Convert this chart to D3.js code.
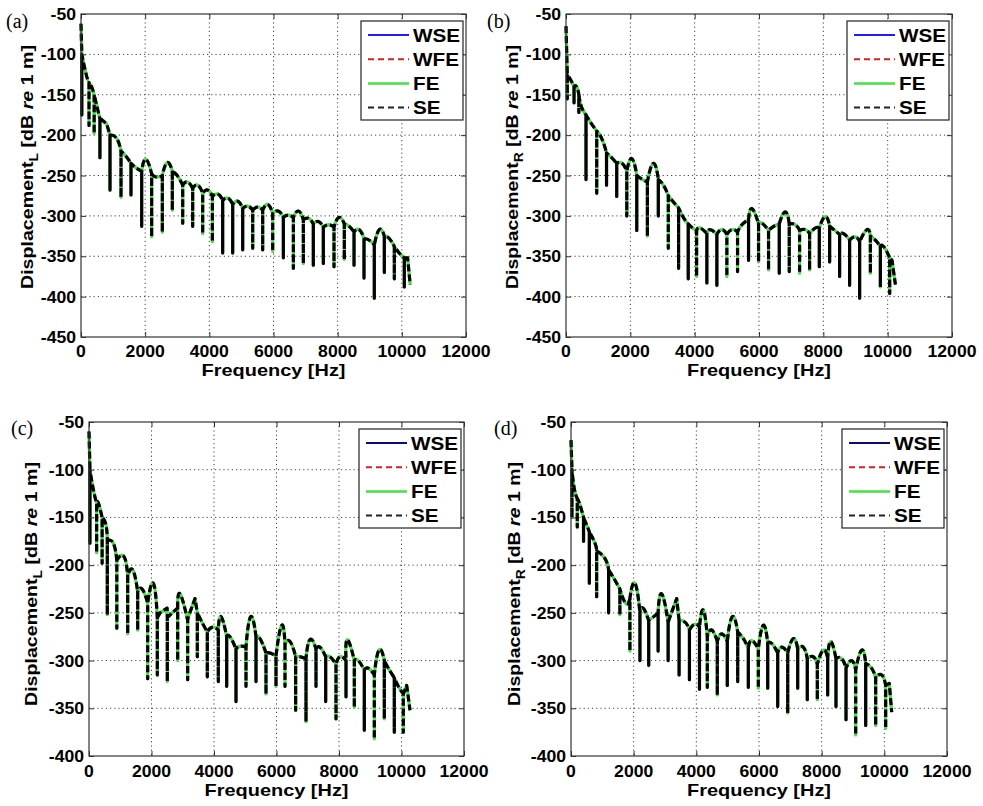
<!DOCTYPE html>
<html><head><meta charset="utf-8">
<script src="https://cdn.jsdelivr.net/npm/d3@7"></script>
<style>
html,body{margin:0;padding:0;background:#fff;}
svg{display:block;}
text{font-family:"Liberation Sans",Arial,sans-serif;font-weight:bold;fill:#000;}
</style></head>
<body>
<svg id="chart" width="983" height="806"></svg>
<script>
// ---------- DATA ----------
const seriesNames = ["WSE","WFE","FE","SE"];
const xTicks = [0,2000,4000,6000,8000,10000,12000];
const yTicksTop = [-450,-400,-350,-300,-250,-200,-150,-100,-50];
const yTicksBottom = [-400,-350,-300,-250,-200,-150,-100,-50];

// arch tops [Hz, dB]
const aPeaks = [[0,-62],[170,-126],[330,-140],[470,-160],[620,-180],[800,-186],[1110,-204],[1400,-226],[1700,-240],[2020,-230],[2350,-252],[2690,-234],[3000,-250],[3320,-258],[3640,-262],[3950,-268],[4270,-273],[4580,-278],[4890,-282],[5200,-288],[5510,-289],[5820,-286],[6150,-294],[6460,-299],[6780,-294],[7090,-303],[7400,-307],[7720,-311],[8040,-302],[8360,-313],[8670,-317],[8980,-330],[9300,-317],[9610,-328],[9920,-346],[10180,-352],[10260,-385]];
// dips [Hz, arch level at the dip, bottom dB]
const aDips = [[25,-100,-175],[250,-135,-188],[410,-150,-198],[590,-180,-228],[904,-200,-268],[1247,-220,-277],[1558,-235,-274],[1891,-245,-313],[2203,-248,-326],[2535,-250,-320],[2846,-245,-293],[3170,-262,-309],[3481,-266,-313],[3793,-272,-322],[4094,-276,-332],[4416,-281,-346],[4728,-286,-346],[5040,-291,-342],[5352,-293,-340],[5663,-293,-342],[5975,-297,-344],[6307,-302,-352],[6619,-302,-365],[6930,-305,-359],[7241,-310,-361],[7553,-314,-359],[7886,-314,-363],[8207,-310,-354],[8510,-320,-361],[8821,-328,-377],[9142,-336,-402],[9454,-325,-370],[9766,-338,-378],[10077,-352,-388]];

const bPeaks = [[0,-65],[150,-132],[330,-140],[480,-165],[778,-185],[1110,-204],[1420,-228],[1750,-235],[2044,-229],[2380,-255],[2717,-235],[3030,-262],[3340,-283],[3650,-302],[3960,-316],[4171,-315],[4482,-317],[4846,-317],[5157,-317],[5468,-311],[5779,-291],[6091,-309],[6452,-313],[6816,-295],[7127,-311],[7438,-317],[7750,-315],[8061,-301],[8268,-315],[8630,-322],[8994,-326],[9358,-317],[9617,-330],[9876,-338],[10135,-355],[10240,-385]];
const bDips = [[40,-125,-155],[250,-140,-160],[400,-150,-172],[622,-175,-255],[955,-195,-272],[1260,-222,-262],[1577,-235,-276],[1890,-245,-300],[2200,-250,-318],[2530,-258,-325],[2870,-255,-300],[3180,-275,-340],[3500,-290,-365],[3800,-310,-378],[4060,-318,-375],[4379,-322,-383],[4690,-323,-386],[5001,-323,-375],[5333,-320,-369],[5675,-305,-355],[5986,-310,-357],[6297,-318,-367],[6630,-310,-371],[6941,-310,-369],[7262,-318,-371],[7573,-322,-367],[7875,-315,-363],[8196,-313,-357],[8506,-323,-375],[8817,-330,-386],[9129,-332,-402],[9462,-325,-371],[9773,-338,-388],[10063,-352,-396]];

const cPeaks = [[0,-60],[140,-121],[300,-135],[544,-158],[778,-177],[1120,-191],[1400,-205],[1700,-225],[2058,-219],[2272,-250],[2500,-245],[2698,-249],[2912,-230],[3170,-255],[3392,-235],[3650,-262],[3950,-265],[4224,-254],[4512,-275],[4832,-285],[5174,-254],[5472,-277],[5792,-292],[6166,-263],[6432,-280],[6752,-296],[7072,-278],[7392,-286],[7712,-296],[8032,-296],[8266,-278],[8618,-300],[8938,-308],[9280,-289],[9578,-308],[9898,-327],[10166,-326],[10272,-352]];
const cDips = [[30,-100,-177],[245,-135,-187],[420,-150,-198],[586,-175,-252],[890,-195,-266],[1238,-212,-272],[1558,-228,-268],[1878,-240,-319],[2186,-255,-315],[2506,-255,-322],[2838,-245,-300],[3158,-258,-320],[3466,-250,-296],[3786,-270,-317],[4138,-268,-322],[4406,-275,-327],[4704,-288,-343],[5024,-286,-327],[5344,-275,-322],[5664,-292,-335],[5984,-295,-327],[6272,-283,-327],[6613,-296,-352],[6944,-298,-364],[7264,-288,-327],[7574,-296,-343],[7904,-304,-361],[8224,-300,-338],[8490,-300,-349],[8810,-310,-373],[9130,-315,-382],[9450,-300,-361],[9770,-318,-375],[10058,-335,-375]];

const dPeaks = [[0,-69],[106,-120],[287,-137],[500,-158],[766,-177],[1085,-193],[1300,-210],[1458,-219],[1750,-240],[2042,-219],[2300,-245],[2600,-255],[2894,-230],[3150,-255],[3373,-235],[3650,-260],[3950,-262],[4223,-247],[4490,-268],[4810,-272],[5148,-254],[5499,-277],[5768,-279],[6138,-263],[6406,-282],[6725,-286],[7097,-277],[7416,-286],[7735,-296],[8053,-289],[8287,-280],[8639,-298],[8958,-300],[9277,-289],[9596,-308],[9915,-315],[10158,-324],[10235,-354]];
const dDips = [[30,-100,-150],[200,-130,-160],[400,-150,-175],[585,-165,-219],[819,-185,-233],[1200,-205,-250],[1560,-225,-252],[1880,-235,-290],[2200,-250,-300],[2480,-258,-305],[2780,-250,-290],[3100,-260,-300],[3450,-258,-315],[3780,-268,-320],[4100,-265,-330],[4350,-275,-328],[4669,-280,-336],[4988,-280,-326],[5320,-270,-322],[5659,-287,-328],[5978,-288,-329],[6278,-282,-329],[6597,-292,-348],[6916,-292,-355],[7235,-288,-329],[7541,-298,-341],[7861,-304,-341],[8192,-298,-336],[8457,-298,-348],[8777,-308,-362],[9086,-310,-378],[9405,-303,-368],[9724,-318,-368],[10043,-326,-371]];

// ---------- LAYOUT ----------
const panels = [
  {peaks:aPeaks, dips:aDips, L:81, R:466, T:14, B:337, yDom:[-450,-50], yTicks:yTicksTop, tag:"(a)", tagX:6, tagY:28, sub:"L", wse:"#1c1cff", ytX:33, ytY:167, xtY:376, xlY:357},
  {peaks:bPeaks, dips:bDips, L:566, R:952, T:14, B:337, yDom:[-450,-50], yTicks:yTicksTop, tag:"(b)", tagX:487, tagY:28, sub:"R", wse:"#1c1cff", ytX:518, ytY:167, xtY:376, xlY:357},
  {peaks:cPeaks, dips:cDips, L:89, R:464, T:422, B:756, yDom:[-400,-50], yTicks:yTicksBottom, tag:"(c)", tagX:11, tagY:435, sub:"L", wse:"#0c0c70", ytX:37, ytY:584, xtY:796, xlY:777},
  {peaks:dPeaks, dips:dDips, L:571, R:947, T:422, B:756, yDom:[-400,-50], yTicks:yTicksBottom, tag:"(d)", tagX:494, tagY:435, sub:"R", wse:"#0c0c70", ytX:520, ytY:584, xtY:796, xlY:777}
];

const svg = d3.select("#chart");
svg.append("rect").attr("width",983).attr("height",806).attr("fill","#fff");

// Curve: rounded arches (quadratic through the arch top) joined by narrow vertical dips
function buildPath(peaks, dips, x, y){
  const ev = peaks.map(p=>({t:"p", f:p[0], v:p[1]}))
    .concat(dips.map(d=>({t:"d", f:d[0], j:d[1], b:d[2]})));
  ev.sort((a,b)=>a.f-b.f);
  const path = d3.path();
  let last = null, pending = [];
  function arrive(ax, ay){
    if(!last){ path.moveTo(ax, ay); }
    else if(pending.length===1){
      const P = pending[0];
      const cx = 2*P[0]-(last[0]+ax)/2, cy = 2*P[1]-(last[1]+ay)/2;
      path.quadraticCurveTo(cx, cy, ax, ay);
    } else {
      pending.forEach(P=>path.lineTo(P[0],P[1]));
      path.lineTo(ax, ay);
    }
    pending = []; last = [ax, ay];
  }
  ev.forEach(e=>{
    if(e.t==="p"){
      if(!last) arrive(x(e.f), y(e.v));
      else pending.push([x(e.f), y(e.v)]);
    } else {
      const px = x(e.f);
      arrive(px, y(e.j));
      path.lineTo(px, y(e.b));
      path.lineTo(px, y(e.j));
    }
  });
  pending.forEach(P=>path.lineTo(P[0],P[1]));
  return path.toString();
}

function stretchText(g, x, y, str, anchor, size, sx){
  return g.append("text")
    .attr("transform",`translate(${x},${y}) scale(${sx},1)`)
    .attr("text-anchor",anchor).attr("font-size",size).text(str);
}

panels.forEach(p=>{
  const x = d3.scaleLinear().domain([0,12000]).range([p.L,p.R]);
  const y = d3.scaleLinear().domain(p.yDom).range([p.B,p.T]);
  const g = svg.append("g");

  // grid
  const grid = g.append("g").attr("stroke","#444").attr("stroke-width",1).attr("stroke-dasharray","1.2,3");
  xTicks.slice(1,-1).forEach(t=>grid.append("line").attr("x1",x(t)).attr("x2",x(t)).attr("y1",p.T).attr("y2",p.B));
  p.yTicks.slice(1,-1).forEach(t=>grid.append("line").attr("x1",p.L).attr("x2",p.R).attr("y1",y(t)).attr("y2",y(t)));

  // curves
  const dStr = buildPath(p.peaks, p.dips, x, y);
  const styles = [
    {c:p.wse, w:1.5, dash:null},
    {c:"#d62020", w:1.5, dash:"5,3"},
    {c:"#44e044", w:3.2, dash:null},
    {c:"#000", w:3.2, dash:"7,3"}
  ];
  styles.forEach(s=>{
    g.append("path").attr("d",dStr).attr("fill","none")
      .attr("stroke",s.c).attr("stroke-width",s.w).attr("stroke-linejoin","round")
      .attr("stroke-dasharray",s.dash);
  });

  // axes (ticks inside, box)
  const ax = g.append("g");
  ax.append("g").attr("transform",`translate(${p.L},0)`).call(d3.axisLeft(y).tickValues(p.yTicks).tickSize(-5).tickFormat(""));
  ax.append("g").attr("transform",`translate(${p.R},0)`).call(d3.axisRight(y).tickValues(p.yTicks).tickSize(-5).tickFormat(""));
  ax.append("g").attr("transform",`translate(0,${p.B})`).call(d3.axisBottom(x).tickValues(xTicks).tickSize(-5).tickFormat(""));
  ax.append("g").attr("transform",`translate(0,${p.T})`).call(d3.axisTop(x).tickValues(xTicks).tickSize(-5).tickFormat(""));
  ax.selectAll(".domain").remove();
  ax.selectAll("line").attr("stroke","#333");
  g.append("rect").attr("x",p.L).attr("y",p.T).attr("width",p.R-p.L).attr("height",p.B-p.T)
    .attr("fill","none").attr("stroke","#333").attr("stroke-width",1.2);

  // tick labels
  p.yTicks.forEach(t=>stretchText(g, p.L-5, y(t)+6, String(t), "end", 16, 1.1));
  xTicks.forEach(t=>stretchText(g, x(t), p.xlY, String(t), "middle", 16, 1.1));

  // axis titles
  g.append("text").attr("x",(p.L+p.R)/2).attr("y",p.xtY).attr("text-anchor","middle")
    .attr("font-size",17).attr("textLength",144).attr("lengthAdjust","spacingAndGlyphs").text("Frequency [Hz]");
  const yt = g.append("text").attr("transform",`translate(${p.ytX},${p.ytY}) rotate(-90)`)
    .attr("text-anchor","middle").attr("font-size",17).attr("textLength",244).attr("lengthAdjust","spacingAndGlyphs");
  yt.append("tspan").text("Displacement");
  yt.append("tspan").attr("font-size",12).attr("dy",5).text(p.sub);
  yt.append("tspan").attr("dy",-5).text(" [dB ");
  yt.append("tspan").attr("font-style","italic").text("re");
  yt.append("tspan").text(" 1 m]");

  // panel tag
  g.append("text").attr("x",p.tagX).attr("y",p.tagY).attr("font-size",20)
    .style("font-family","'Liberation Serif','Times New Roman',serif").style("font-weight","normal").text(p.tag);

  // legend
  const lw = 102, lh = 99;
  const lx = p.R-3-lw, ly = p.T+7;
  const lg = g.append("g");
  lg.append("rect").attr("x",lx).attr("y",ly).attr("width",lw).attr("height",lh)
    .attr("fill","#fff").attr("stroke","#222").attr("stroke-width",1.2);
  const legRows = [
    {n:seriesNames[0], c:p.wse, w:2, dash:null},
    {n:seriesNames[1], c:"#d62020", w:2, dash:"6,4"},
    {n:seriesNames[2], c:"#44e044", w:2.5, dash:null},
    {n:seriesNames[3], c:"#222", w:2, dash:"6,4"}
  ];
  legRows.forEach((r,i)=>{
    const cy = ly + 14 + i*24.2;
    lg.append("line").attr("x1",lx+7).attr("x2",lx+48).attr("y1",cy).attr("y2",cy)
      .attr("stroke",r.c).attr("stroke-width",r.w).attr("stroke-dasharray",r.dash);
    stretchText(lg, lx+52, cy+6.5, r.n, "start", 18, 1.15);
  });
});
</script>
</body></html>
